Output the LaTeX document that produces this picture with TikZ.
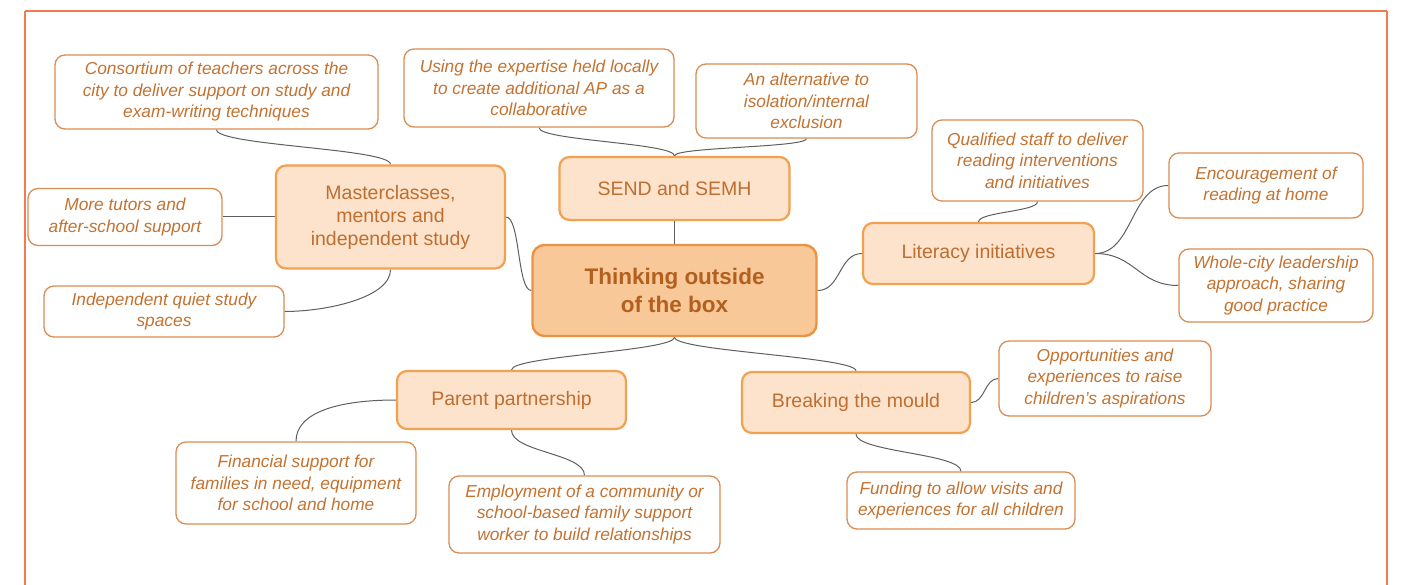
\documentclass[tikz,border=0pt]{standalone}
\usepackage{fontspec}
\setmainfont{Liberation Sans}
\usepackage{tikz}
\usetikzlibrary{backgrounds}
\definecolor{frameorange}{RGB}{242,122,76}
\definecolor{leafline}{RGB}{218,140,82}
\definecolor{leaftext}{RGB}{196,114,48}
\definecolor{branchfill}{RGB}{253,227,203}
\definecolor{branchline}{RGB}{242,161,80}
\definecolor{branchtext}{RGB}{190,110,48}
\definecolor{rootfill}{RGB}{249,200,152}
\definecolor{rootline}{RGB}{235,147,66}
\definecolor{roottext}{RGB}{178,96,32}
\definecolor{linkgray}{RGB}{95,95,95}
\pgfdeclarelayer{edgelayer}
\pgfdeclarelayer{nodelayer}
\pgfsetlayers{edgelayer,nodelayer,main}
\tikzstyle{none}=[inner sep=0pt]
\tikzstyle{leaf}=[rectangle,rounded corners=10,draw=leafline,fill=white,line width=1.3,text=leaftext,font=\fontsize{17.3}{21.5}\selectfont\itshape,align=center,inner sep=0pt]
\tikzstyle{branch}=[rectangle,rounded corners=10,draw=branchline,fill=branchfill,line width=2.2,text=branchtext,font=\fontsize{19.5}{23}\selectfont,align=center,inner sep=0pt]
\tikzstyle{root}=[rectangle,rounded corners=12,draw=rootline,fill=rootfill,line width=2.4,text=roottext,font=\fontsize{22.5}{28}\selectfont\bfseries,align=center,inner sep=0pt]
\tikzstyle{link}=[-,draw=linkgray,line width=1.0]
\tikzstyle{frame}=[-,draw=frameorange,line width=1.6]

\begin{document}
\begin{tikzpicture}[x=1pt,y=-1pt]
	\useasboundingbox (0,0) rectangle (1401,585);
	\begin{pgfonlayer}{nodelayer}
		\node [style=root, minimum width=284, minimum height=91] (think) at (674.5, 290.5) {Thinking outside\\of the box};

		\node [style=branch, minimum width=229, minimum height=103] (master) at (390.5, 217) {Masterclasses,\\mentors and\\independent study};
		\node [style=branch, minimum width=230, minimum height=63] (send) at (674.5, 188.5) {SEND and SEMH};
		\node [style=branch, minimum width=231, minimum height=61] (lit) at (978.5, 253.5) {Literacy initiatives};
		\node [style=branch, minimum width=229, minimum height=58] (parent) at (511.5, 400) {Parent partnership};
		\node [style=branch, minimum width=228, minimum height=61] (mould) at (856, 402.5) {Breaking the mould};

		\node [style=leaf, minimum width=323, minimum height=74] (cons) at (216.5, 92) {Consortium of teachers across the\\city to deliver support on study and\\exam-writing techniques};
		\node [style=leaf, minimum width=194, minimum height=57] (tutors) at (125, 217) {More tutors and\\after-school support};
		\node [style=leaf, minimum width=240, minimum height=51] (quiet) at (164, 311.5) {Independent quiet study\\spaces};

		\node [style=leaf, minimum width=270, minimum height=78] (using) at (539, 88) {Using the expertise held locally\\to create additional AP as a\\collaborative};
		\node [style=leaf, minimum width=221, minimum height=74] (alt) at (806.5, 101) {An alternative to\\isolation/internal\\exclusion};

		\node [style=leaf, minimum width=211, minimum height=81] (qual) at (1037.5, 160.5) {Qualified staff to deliver\\reading interventions\\and initiatives};
		\node [style=leaf, minimum width=194, minimum height=65] (enc) at (1266, 185.5) {Encouragement of\\reading at home};
		\node [style=leaf, minimum width=194, minimum height=73] (whole) at (1276, 285.5) {Whole-city leadership\\approach, sharing\\good practice};

		\node [style=leaf, minimum width=240, minimum height=82] (fin) at (296, 483) {Financial support for\\families in need, equipment\\for school and home};
		\node [style=leaf, minimum width=271, minimum height=77] (emp) at (584.5, 514.5) {Employment of a community or\\school-based family support\\worker to build relationships};

		\node [style=leaf, minimum width=212, minimum height=75] (opp) at (1105, 378.5) {Opportunities and\\experiences to raise\\children’s aspirations};
		\node [style=leaf, minimum width=228, minimum height=57] (fund) at (961, 500.5) {Funding to allow visits and\\experiences for all children};

		\node [style=none] (Ftl) at (25, 11) {};
		\node [style=none] (Ftr) at (1387, 11) {};
		\node [style=none] (Fbr) at (1387, 600) {};
		\node [style=none] (Fbl) at (25, 600) {};
	\end{pgfonlayer}
	\begin{pgfonlayer}{edgelayer}
		\draw [style=frame] (Ftl.center) to (Ftr.center);
		\draw [style=frame] (Ftr.center) to (Fbr.center);
		\draw [style=frame] (Fbl.center) to (Ftl.center);

		\draw [style=link] (send.south) to (think.north);
		\draw [style=link] (master.east) .. controls +(14,0) and +(-14,0) .. (think.west);
		\draw [style=link] (think.east) .. controls +(23,0) and +(-23,0) .. (lit.west);
		\draw [style=link] (think.south) .. controls +(0,14) and +(0,-14) .. (parent.north);
		\draw [style=link] (think.south) .. controls +(0,14) and +(0,-14) .. (mould.north);

		\draw [style=link] (cons.south) .. controls +(0,16) and +(0,-16) .. (master.north);
		\draw [style=link] (tutors.east) to (master.west);
		\draw [style=link] (master.south) .. controls +(0,28) and +(42,0) .. (quiet.east);

		\draw [style=link] (using.south) .. controls +(0,13) and +(0,-13) .. (send.north);
		\draw [style=link] (alt.south) .. controls +(0,9) and +(0,-9) .. (send.north);

		\draw [style=link] (lit.north) .. controls +(0,-10) and +(0,10) .. (qual.south);
		\draw [style=link] (lit.east) .. controls +(38,0) and +(-38,0) .. (enc.west);
		\draw [style=link] (lit.east) .. controls +(40,0) and +(-40,0) .. (whole.west);

		\draw [style=link] (parent.west) .. controls +(-55,0) and +(0,-30) .. (fin.north);
		\draw [style=link] (parent.south) .. controls +(0,22) and +(0,-22) .. (emp.north);

		\draw [style=link] (mould.east) .. controls +(14,0) and +(-14,0) .. (opp.west);
		\draw [style=link] (mould.south) .. controls +(0,18) and +(0,-18) .. (fund.north);
	\end{pgfonlayer}
\end{tikzpicture}
\end{document}
